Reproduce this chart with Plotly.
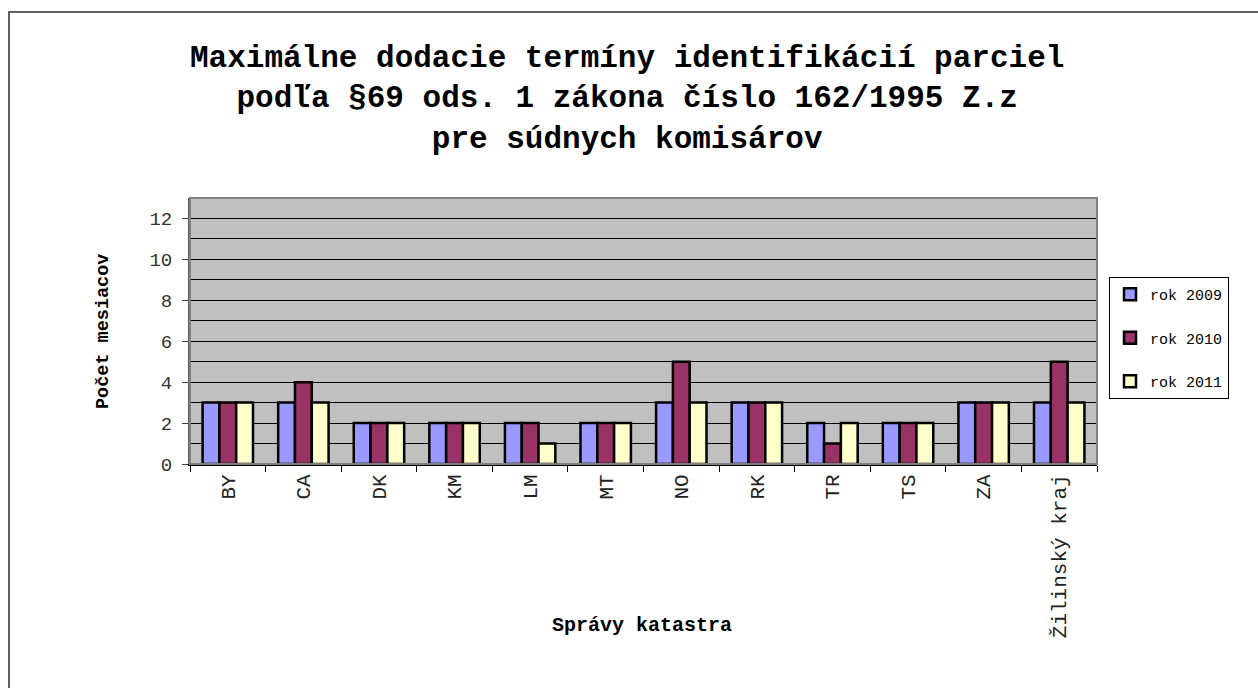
import plotly.graph_objects as go

categories = ["BY", "CA", "DK", "KM", "LM", "MT", "NO", "RK", "TR", "TS", "ZA", "Žilinský kraj"]
series_names = ["rok 2009", "rok 2010", "rok 2011"]
rok_2009 = [3, 3, 2, 2, 2, 2, 3, 3, 2, 2, 3, 3]
rok_2010 = [3, 4, 2, 2, 2, 2, 5, 3, 1, 2, 3, 5]
rok_2011 = [3, 3, 2, 2, 1, 2, 3, 3, 2, 2, 3, 3]
colors = ["#9999FF", "#993366", "#FFFFCC"]
title_lines = [
    "Maximálne dodacie termíny identifikácií parciel",
    "podľa §69 ods. 1 zákona číslo 162/1995 Z.z",
    "pre súdnych komisárov",
]
x_title = "Správy katastra"
y_title = "Počet mesiacov"

MONO = "Liberation Mono, Courier New, monospace"

W, H = 1258, 688
L, R, T, B = 190, 1097, 198, 464

fig = go.Figure()
for name, vals, col in zip(series_names, [rok_2009, rok_2010, rok_2011], colors):
    fig.add_trace(go.Bar(
        x=categories, y=vals, name=name, legendgroup=name,
        marker=dict(color=col, line=dict(color="black", width=2.5)),
    ))

def px2x(px):
    return (px - L) / (R - L)

def py2y(py):
    return (B - py) / (B - T)

annotations = [
    dict(
        text="<b>" + "<br>".join(title_lines) + "</b>",
        x=px2x(627), y=py2y(99), xref="paper", yref="paper",
        showarrow=False, xanchor="center", yanchor="middle", align="center",
        font=dict(family=MONO, size=31, color="black"),
    ),
    dict(
        text=f"<b>{x_title}</b>", x=px2x(642), y=py2y(625), xref="paper", yref="paper",
        showarrow=False, xanchor="center", yanchor="middle",
        font=dict(family=MONO, size=20, color="black"),
    ),
    dict(
        text=f"<b>{y_title}</b>", x=px2x(103), y=py2y(332), xref="paper", yref="paper",
        showarrow=False, xanchor="center", yanchor="middle", textangle=-90,
        font=dict(family=MONO, size=18.5, color="black"),
    ),
]

shapes = [
    # outer chart frame (left/top visible)
    dict(type="rect", xref="paper", yref="paper",
         x0=px2x(9), x1=px2x(1275), y0=py2y(705), y1=py2y(12),
         line=dict(color="#606060", width=2), layer="below"),
    # plot area border
    dict(type="rect", xref="paper", yref="paper",
         x0=0, x1=1, y0=0, y1=1,
         line=dict(color="#808080", width=2), layer="above"),
]

fig.update_layout(
    width=W, height=H,
    margin=dict(l=L, r=W - R, t=T, b=H - B, autoexpand=False),
    paper_bgcolor="white",
    plot_bgcolor="#C0C0C0",
    barmode="group",
    bargap=0.333,
    bargroupgap=0,
    showlegend=True,
    legend=dict(
        x=px2x(1109), y=py2y(277), xanchor="left", yanchor="top",
        bordercolor="black", borderwidth=1, bgcolor="white",
        font=dict(family=MONO, size=15, color="black"),
        tracegroupgap=21, itemwidth=30,
    ),
    annotations=annotations,
    shapes=shapes,
    font=dict(family=MONO, color="black"),
)

fig.update_xaxes(
    type="category",
    tickangle=-90,
    tickson="boundaries",
    ticks="outside", ticklen=6, tickcolor="black", tickwidth=1,
    showline=True, linecolor="black", linewidth=2,
    showgrid=False,
    tickfont=dict(family=MONO, size=21, color="#222222"),
)
fig.update_yaxes(
    range=[0, 13],
    tickvals=[0, 2, 4, 6, 8, 10, 12],
    ticks="outside", ticklen=6, tickcolor="#404040",
    showline=True, linecolor="#606060", linewidth=2,
    showgrid=True, gridcolor="black", gridwidth=1,
    minor=dict(dtick=1, showgrid=True, gridcolor="black", gridwidth=1),
    zeroline=False,
    ticklabelstandoff=6,
    tickfont=dict(family=MONO, size=19, color="#333333"),
)

fig.write_html(
    "out.html",
    config={"displayModeBar": False},
    post_script="document.body.style.margin='0';",
)
